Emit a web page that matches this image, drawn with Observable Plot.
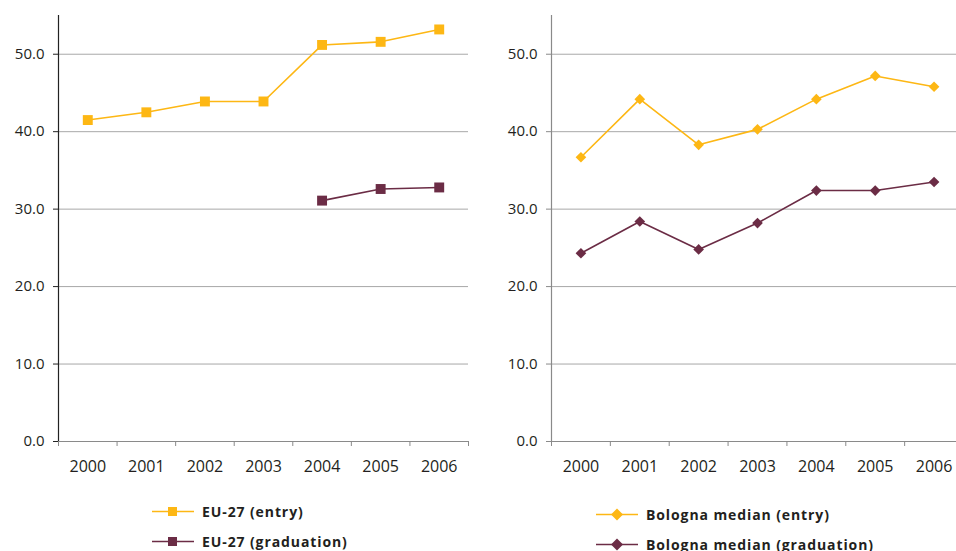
<!DOCTYPE html>
<html><head><meta charset="utf-8">
<script src="https://cdn.jsdelivr.net/npm/d3@7"></script>
<script src="https://cdn.jsdelivr.net/npm/@observablehq/plot@0.6"></script>
<style>
html,body{margin:0;padding:0;background:#fff;}
body{width:956px;height:551px;overflow:hidden;position:relative;font-family:"Open Sans",sans-serif;}
.panel{position:absolute;top:0;}
.panel svg{max-width:none !important;}
.legend{position:absolute;font-weight:bold;font-size:14px;color:#231f20;letter-spacing:0.9px;}
.legend .row{display:flex;align-items:center;height:30px;white-space:nowrap;}
.legend svg{margin-right:8px;flex:none;}
</style></head><body>
<div id="left" class="panel" style="left:0px;width:478px"></div>
<div id="right" class="panel" style="left:478px;width:490px"></div>
<div id="legL" class="legend" style="left:152px;top:496px"></div>
<div id="legR" class="legend" style="left:596px;top:499px"></div>
<script>
const years = [2000, 2001, 2002, 2003, 2004, 2005, 2006];
const eu27Entry = [41.5, 42.5, 43.9, 43.9, 51.2, 51.6, 53.2];
const eu27Graduation = [null, null, null, null, 31.1, 32.6, 32.8];
const bolognaEntry = [36.7, 44.2, 38.3, 40.3, 44.2, 47.2, 45.8];
const bolognaGraduation = [24.3, 28.4, 24.8, 28.2, 32.4, 32.4, 33.5];
const yTicks = [0, 10, 20, 30, 40, 50];
const yMax = 55;
const entryColor = "#FDB714";
const gradColor = "#6B2C45";
const leftLabels = ["EU-27 (entry)", "EU-27 (graduation)"];
const rightLabels = ["Bologna median (entry)", "Bologna median (graduation)"];

function toRows(arr) { return years.map((yr, i) => ({year: yr, value: arr[i]})); }
const boundaries = [years[0] - 0.5, ...years.map(y => y + 0.5)];

function panel({series, symbol, r, width, marginLeft, marginRight, axisColor, tickPadding}) {
  const marks = [
    Plot.gridY(yTicks.filter(d => d > 0), {stroke: "#a8a8a8", strokeOpacity: 1}),
    Plot.ruleY([0], {stroke: "#8a8a8a", strokeWidth: 1.2}),
    Plot.ruleX([boundaries[0]], {stroke: axisColor, strokeWidth: 1.2}),
    Plot.axisY({ticks: yTicks, tickSize: 5, tickPadding, tickFormat: d => d.toFixed(1), stroke: axisColor, fill: "#231f20", fontSize: 15}),
    Plot.axisX({ticks: years, tickSize: 0, tickPadding: 19, tickFormat: d => String(d), fill: "#231f20", fontSize: 16}),
    Plot.axisX({ticks: boundaries, tickSize: 5, tickFormat: () => "", stroke: "#8a8a8a"})
  ];
  for (const s of series) {
    const rows = toRows(s.values);
    marks.push(Plot.line(rows.filter(d => d.value != null), {x: "year", y: "value", stroke: s.color, strokeWidth: 1.6}));
    marks.push(Plot.dot(rows.filter(d => d.value != null), {x: "year", y: "value", symbol, r, fill: s.color, stroke: "none"}));
  }
  return Plot.plot({
    width, height: 490,
    marginLeft, marginRight, marginTop: 15, marginBottom: 49,
    x: {domain: [boundaries[0], boundaries[boundaries.length - 1]], label: null},
    y: {domain: [0, yMax], label: null},
    style: {fontFamily: "'Open Sans', sans-serif", background: "transparent", color: "#231f20", overflow: "visible", maxWidth: "none"},
    marks
  });
}

document.getElementById("left").append(panel({
  series: [{values: eu27Entry, color: entryColor}, {values: eu27Graduation, color: gradColor}],
  symbol: "square", r: 5.6, width: 478, marginLeft: 58, marginRight: 10, axisColor: "#222", tickPadding: 9
}));
document.getElementById("right").append(panel({
  series: [{values: bolognaEntry, color: entryColor}, {values: bolognaGraduation, color: gradColor}],
  symbol: "diamond2", r: 4.8, width: 490, marginLeft: 73, marginRight: 5, axisColor: "#8a8a8a", tickPadding: 9
}));

function legend(el, labels, colors, sym) {
  labels.forEach((lab, i) => {
    const row = document.createElement("div");
    row.className = "row";
    const shape = sym === "square"
      ? `<rect x="16" y="4" width="9" height="9" fill="${colors[i]}"/>`
      : `<path d="M21,2.5 L27,8.5 L21,14.5 L15,8.5 Z" fill="${colors[i]}"/>`;
    row.innerHTML = `<svg width="42" height="17"><line x1="0" x2="42" y1="8.5" y2="8.5" stroke="${colors[i]}" stroke-width="1.6"/>${shape}</svg><span>${lab}</span>`;
    el.append(row);
  });
}
legend(document.getElementById("legL"), leftLabels, [entryColor, gradColor], "square");
legend(document.getElementById("legR"), rightLabels, [entryColor, gradColor], "diamond");
</script>
</body></html>
